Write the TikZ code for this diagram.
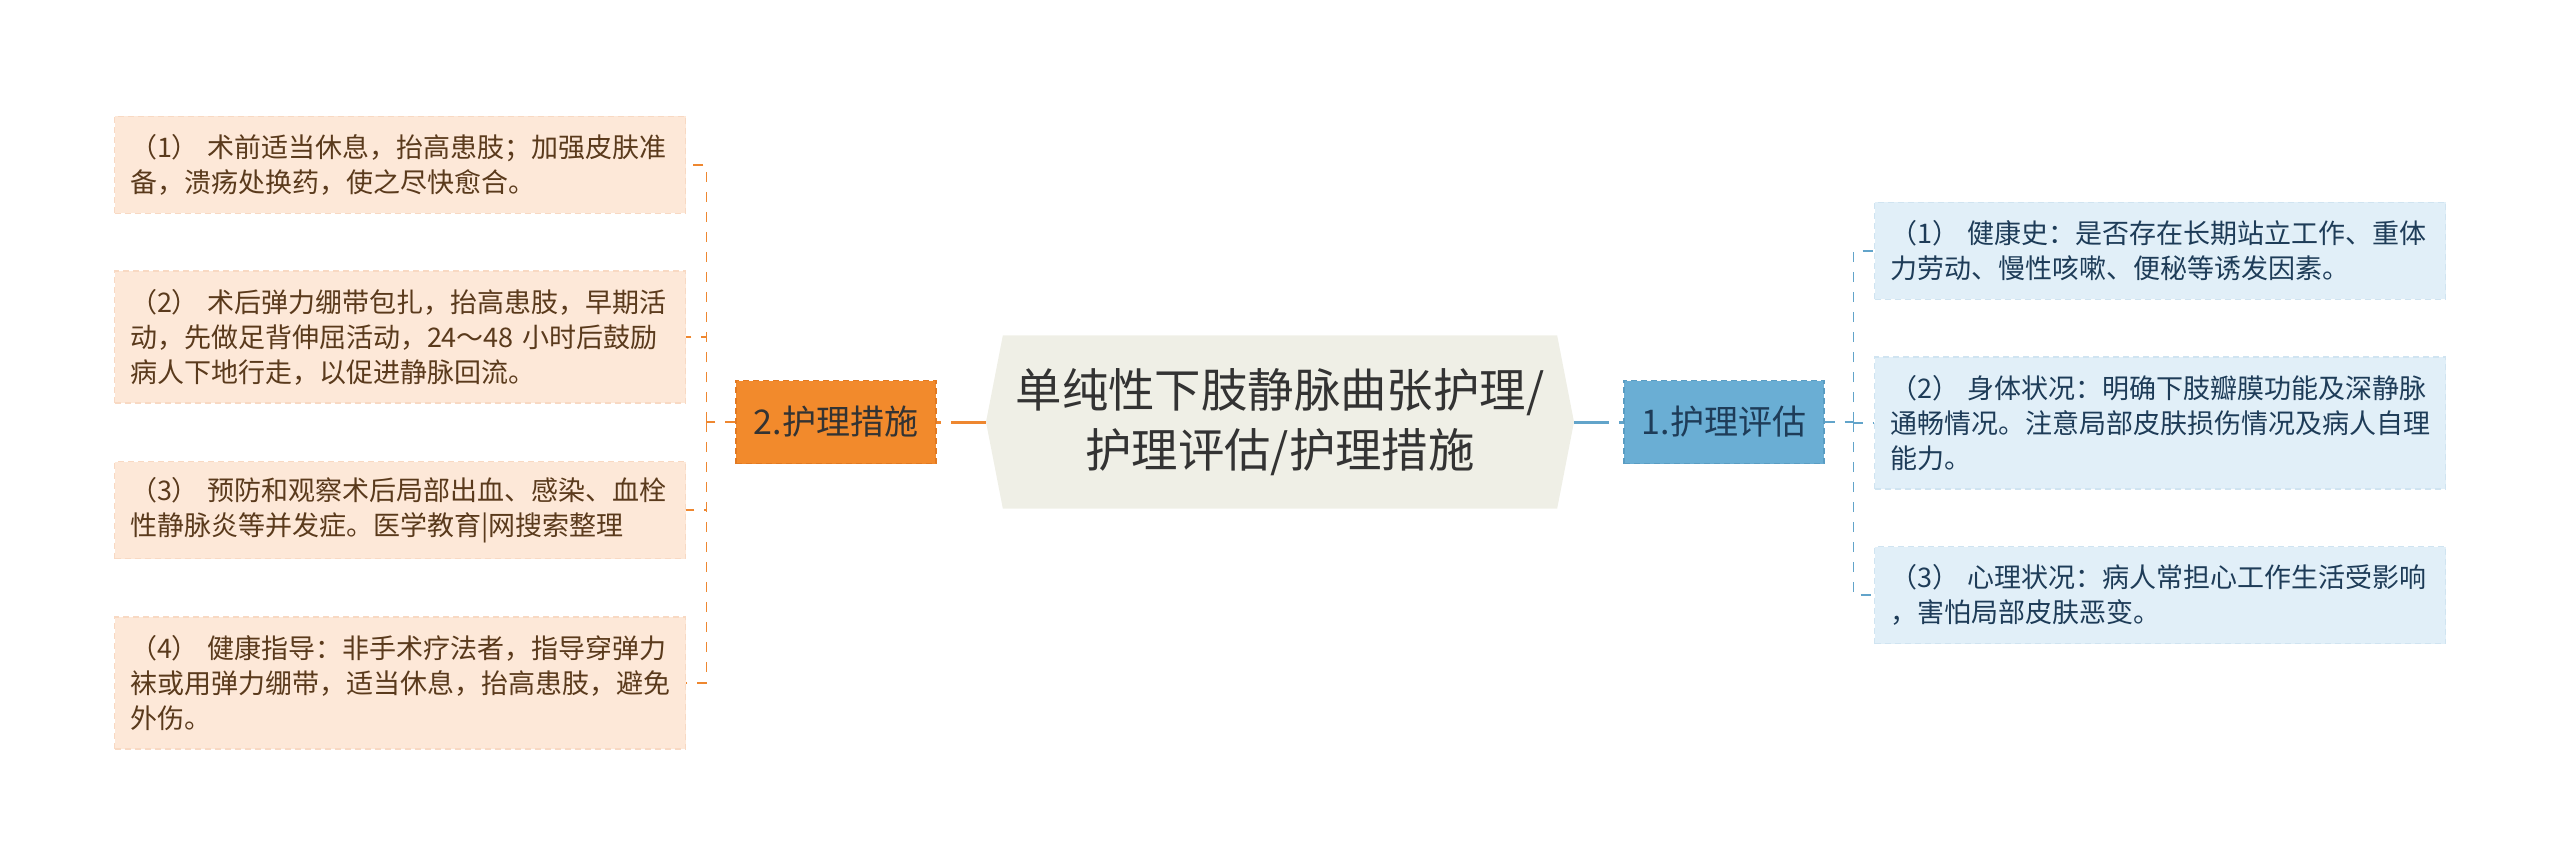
\documentclass[tikz,border=0pt]{standalone}
\usepackage{fontspec}
\setmainfont{Noto Sans CJK SC}
\usetikzlibrary{positioning,shapes.symbols}

\definecolor{rootfill}{HTML}{EFEFE6}
\definecolor{roottext}{HTML}{333333}
\definecolor{careorange}{HTML}{F28A2C}
\definecolor{careedge}{HTML}{E27A22}
\definecolor{careline}{HTML}{EE8730}
\definecolor{careleaffill}{HTML}{FDE8D8}
\definecolor{careleafedge}{HTML}{F8D9C3}
\definecolor{careleaftext}{HTML}{5A3A1C}
\definecolor{evalblue}{HTML}{6AAED4}
\definecolor{evaledge}{HTML}{5A9DC3}
\definecolor{evalline}{HTML}{62A4CA}
\definecolor{evalleaffill}{HTML}{E1EFF8}
\definecolor{evalleafedge}{HTML}{D0E4F1}
\definecolor{evalleaftext}{HTML}{1E3C58}

\begin{document}
\begin{tikzpicture}[x=0.5pt, y=-0.5pt,
  root/.style={signal, signal to=west and east, signal pointer angle=158,
    fill=rootfill, text=roottext, align=center, inner sep=0pt,
    minimum width=294pt, minimum height=86.5pt,
    font=\fontsize{23.2}{30}\selectfont},
  branch/.style={draw, dash pattern=on 3pt off 2pt, line width=0.6pt,
    minimum width=100pt, minimum height=41.5pt, inner sep=0pt,
    font=\fontsize{17}{20}\selectfont},
  leaf/.style={draw, dash pattern=on 3pt off 2pt, line width=0.6pt,
    align=left, text width=270pt, inner xsep=7.75pt, inner ysep=0pt,
    font=\fontsize{13.5}{17.5}\selectfont},
  careleaf/.style={leaf, fill=careleaffill, draw=careleafedge, text=careleaftext},
  evalleaf/.style={leaf, fill=evalleaffill, draw=evalleafedge, text=evalleaftext},
  rootlink/.style={line width=1.5pt, dash pattern=on 17.5pt off 5pt},
  leaflink/.style={line width=0.75pt, dash pattern=on 5pt off 5pt},
]
\useasboundingbox (0,0) rectangle (2560,861);

\node[root] (root) at (1280,422) {单纯性下肢静脉曲张护理/\\护理评估/护理措施};
\node[branch, fill=careorange, draw=careedge, text=roottext] (care) [left=24.5pt of root] {2.护理措施};
\node[branch, fill=evalblue, draw=evaledge, text=evalleaftext] (eval) [right=24.5pt of root] {1.护理评估};
\coordinate[left=14.5pt of care] (care_j);
\coordinate[right=14.5pt of eval] (eval_j);

% 护理措施
\node[careleaf, minimum height=48.5pt] (care_1) at (400,165) {（1） 术前适当休息，抬高患肢；加强皮肤准\\备，溃疡处换药，使之尽快愈合。};
\node[careleaf, minimum height=66pt] (care_2) at (400,337) {（2） 术后弹力绷带包扎，抬高患肢，早期活\\动，先做足背伸屈活动，24～48 小时后鼓励\\病人下地行走，以促进静脉回流。};
\node[careleaf, minimum height=48.5pt] (care_3) at (400,510) {（3） 预防和观察术后局部出血、感染、血栓\\性静脉炎等并发症。医学教育|网搜索整理};
\node[careleaf, minimum height=66pt] (care_4) at (400,683) {（4） 健康指导：非手术疗法者，指导穿弹力\\袜或用弹力绷带，适当休息，抬高患肢，避免\\外伤。};

% 护理评估
\node[evalleaf, minimum height=48.5pt] (eval_1) at (2160,251) {（1） 健康史：是否存在长期站立工作、重体\\力劳动、慢性咳嗽、便秘等诱发因素。};
\node[evalleaf, minimum height=66pt] (eval_2) at (2160,423) {（2） 身体状况：明确下肢瓣膜功能及深静脉\\通畅情况。注意局部皮肤损伤情况及病人自理\\能力。};
\node[evalleaf, minimum height=48.5pt] (eval_3) at (2160,595) {（3） 心理状况：病人常担心工作生活受影响\\，害怕局部皮肤恶变。};

\draw[rootlink, careline] (root.west) -- (care.east);
\draw[rootlink, evalline] (root.east) -- (eval.west);
\draw[leaflink, careline] (care.west) -- (care_j);
\draw[leaflink, careline] (care_j) |- (care_1.east);
\draw[leaflink, careline] (care_j) |- (care_2.east);
\draw[leaflink, careline] (care_j) |- (care_3.east);
\draw[leaflink, careline] (care_j) |- (care_4.east);
\draw[leaflink, evalline] (eval.east) -- (eval_j);
\draw[leaflink, evalline] (eval_j) |- (eval_1.west);
\draw[leaflink, evalline] (eval_j) |- (eval_2.west);
\draw[leaflink, evalline] (eval_j) |- (eval_3.west);

\end{tikzpicture}
\end{document}
